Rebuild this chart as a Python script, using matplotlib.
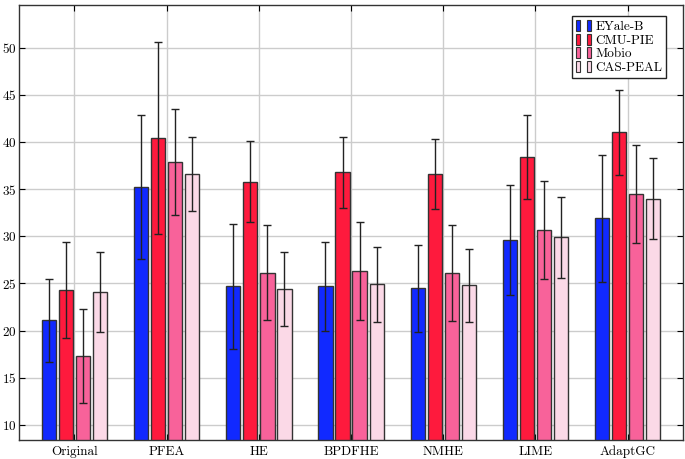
import matplotlib
matplotlib.use("Agg")
import matplotlib.pyplot as plt
from matplotlib.patches import Rectangle
from matplotlib.legend_handler import HandlerTuple
import numpy as np

plt.rcParams['font.family'] = 'serif'
plt.rcParams['font.serif'] = ['cmr10', 'DejaVu Serif']
plt.rcParams['mathtext.fontset'] = 'cm'
plt.rcParams['axes.formatter.use_mathtext'] = True

methods = ['Original', 'PFEA', 'HE', 'BPDFHE', 'NMHE', 'LIME', 'AdaptGC']
datasets = ['EYale-B', 'CMU-PIE', 'Mobio', 'CAS-PEAL']

eyale = [21.1, 35.2, 24.7, 24.7, 24.5, 29.6, 31.9]
eyale_err = [4.4, 7.6, 6.6, 4.7, 4.6, 5.8, 6.7]
cmupie = [24.3, 40.4, 35.8, 36.8, 36.6, 38.4, 41.0]
cmupie_err = [5.1, 10.2, 4.25, 3.75, 3.7, 4.4, 4.5]
mobio = [17.3, 37.85, 26.15, 26.35, 26.1, 30.7, 34.5]
mobio_err = [5.0, 5.6, 5.0, 5.2, 5.1, 5.2, 5.2]
caspeal = [24.1, 36.6, 24.4, 24.9, 24.8, 29.9, 34.0]
caspeal_err = [4.2, 3.95, 3.9, 3.95, 3.9, 4.3, 4.3]

series = [eyale, cmupie, mobio, caspeal]
errors = [eyale_err, cmupie_err, mobio_err, caspeal_err]
colors = ['#1129ff', '#fe1a3d', '#f8629a', '#fbd9e7']

fig = plt.figure(figsize=(6.85, 4.59), dpi=100)
ax = fig.add_axes([0.028, 0.041, 0.969, 0.948])

x = np.arange(len(methods))
step = 0.185
width = 0.155
handles = []
for i, (vals, errs, c) in enumerate(zip(series, errors, colors)):
    pos = x + (i - 1.5) * step
    ax.bar(pos, vals, width, color=c, edgecolor='#333333', linewidth=1.0, zorder=2)
    ax.errorbar(pos, vals, yerr=errs, fmt='none', ecolor='#222222', elinewidth=1.0,
                capsize=3, capthick=1.0, zorder=3)
    # pgfplots-style ybar legend image: two little bars
    h = (Rectangle((0, 0), 1, 1, facecolor=c, edgecolor='#333333', linewidth=0.8),
         Rectangle((0, 0), 1, 1, facecolor=c, edgecolor='#333333', linewidth=0.8))
    handles.append(h)

ax.set_xlim(-0.6, 6.6)
ax.set_ylim(8.4, 54.5)
ax.set_xticks(x)
ax.set_xticklabels(methods, fontsize=9.5)
ax.set_yticks(range(10, 51, 5))
ax.tick_params(axis='y', labelsize=9.5, direction='in', right=True, length=4, pad=2)
ax.tick_params(axis='x', direction='in', top=True, length=4, pad=4)
ax.grid(True, color='#cccccc', linewidth=1.0, zorder=0)
ax.set_axisbelow(True)
for s in ax.spines.values():
    s.set_color('#333333')
    s.set_linewidth(1.0)

leg = ax.legend(handles, datasets, handler_map={tuple: HandlerTuple(ndivide=None, pad=0.5)},
                loc='upper right', bbox_to_anchor=(0.985, 0.99), fontsize=9.5,
                handlelength=1.2, handleheight=0.9, handletextpad=0.3,
                labelspacing=0.05, borderpad=0.3, fancybox=False, framealpha=1)
leg.get_frame().set_edgecolor('#222222')
leg.get_frame().set_linewidth(1.0)

fig.savefig('out.png', dpi=100)
